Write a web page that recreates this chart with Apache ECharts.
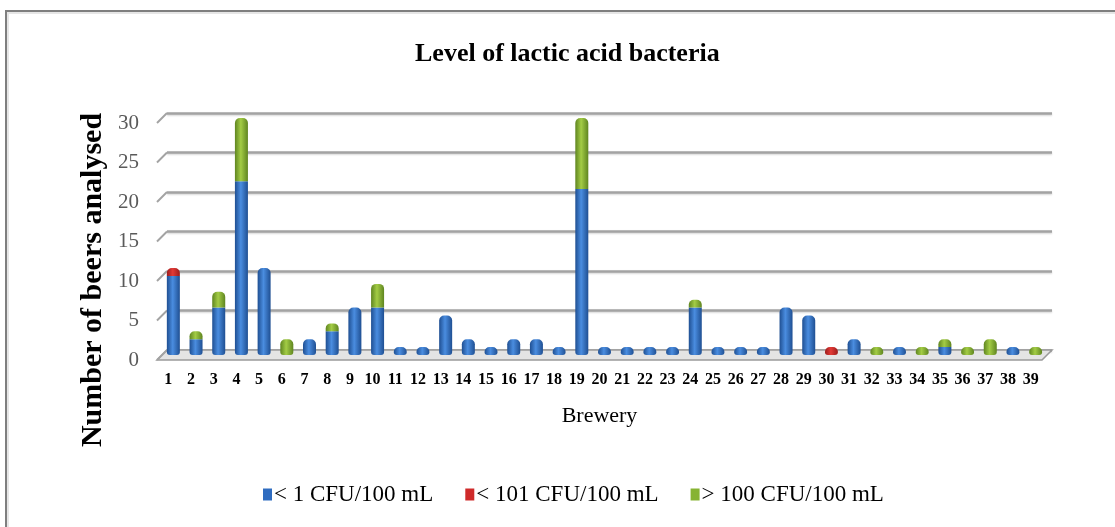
<!DOCTYPE html>
<html>
<head>
<meta charset="utf-8">
<title>Level of lactic acid bacteria</title>
<script src="https://cdn.jsdelivr.net/npm/echarts@6/dist/echarts.min.js"></script>
<style>
  html, body { margin: 0; padding: 0; background: #ffffff; }
  #chart { width: 1115px; height: 527px; }
</style>
</head>
<body>
<div id="chart"></div>
<script>
// Breweries 1..39
const breweries = ['1','2','3','4','5','6','7','8','9','10','11','12','13','14','15','16','17','18','19','20',
                   '21','22','23','24','25','26','27','28','29','30','31','32','33','34','35','36','37','38','39'];

// Number of beers per level of lactic acid bacteria
const below1CFU   = [10,2,6,22,11,0,2,3,6,6, 1,1,5,2,1,2,2,1,21,1, 1,1,1,6,1,1,1,6,5,0, 2,0,1,0,1,0,0,1,0];
const below101CFU = [1,0,0,0,0,0,0,0,0,0, 0,0,0,0,0,0,0,0,0,0, 0,0,0,0,0,0,0,0,0,1, 0,0,0,0,0,0,0,0,0];
const above100CFU = [0,1,2,8,0,2,0,1,0,3, 0,0,0,0,0,0,0,0,9,0, 0,0,0,1,0,0,0,0,0,0, 0,1,0,1,1,1,2,0,1];

const seriesNames = ['< 1 CFU/100 mL', '< 101 CFU/100 mL', '> 100 CFU/100 mL'];
const yTicks = [0, 5, 10, 15, 20, 25, 30];

const SERIF = '"Liberation Serif", "DejaVu Serif", serif';

function cylinder(dark, light) {
  return new echarts.graphic.LinearGradient(0, 0, 1, 0, [
    { offset: 0, color: dark },
    { offset: 0.45, color: light },
    { offset: 1, color: dark }
  ]);
}
const fills = [
  cylinder('#1f4f92', '#4a8de0'),
  cylinder('#9c1c1c', '#e23a36'),
  cylinder('#5f8520', '#a3cc45')
];
const legendColors = ['#2f6cc0', '#cf2a2a', '#86b332'];

const stacks = [below1CFU, below101CFU, above100CFU];

// which segment is the top / bottom of each stacked column (rounded caps)
function topIndex(i) {
  for (let s = stacks.length - 1; s >= 0; s--) if (stacks[s][i] > 0) return s;
  return -1;
}
function bottomIndex(i) {
  for (let s = 0; s < stacks.length; s++) if (stacks[s][i] > 0) return s;
  return -1;
}

const barSeries = stacks.map((arr, s) => ({
  name: seriesNames[s],
  type: 'bar',
  stack: 'beers',
  xAxisIndex: 1,
  yAxisIndex: 1,
  barWidth: 13,
  z: 5,
  itemStyle: { color: fills[s] },
  data: arr.map((v, i) => {
    if (!v) return '-';
    const isTop = topIndex(i) === s;
    const isBottom = bottomIndex(i) === s;
    const r = [isTop ? 5 : 0, isTop ? 5 : 0, isBottom ? 3 : 0, isBottom ? 3 : 0];
    return { value: v, itemStyle: { borderRadius: r } };
  })
}));

// legend entries use flat swatches
const legendData = seriesNames.map((n, s) => ({ name: n, itemStyle: { color: legendColors[s] } }));

const axisRange = { type: 'value', min: 0, max: 30, interval: 5 };

const option = {
  animation: false,
  backgroundColor: '#ffffff',
  title: {
    text: 'Level of lactic acid bacteria',
    left: 410,
    top: 36,
    textStyle: { fontFamily: SERIF, fontSize: 26, fontWeight: 'bold', color: '#000000' }
  },
  legend: {
    data: legendData,
    left: 258,
    top: 478,
    itemWidth: 9,
    itemHeight: 12,
    itemGap: 32,
    icon: 'rect',
    textStyle: { fontFamily: SERIF, fontSize: 23, color: '#000000', padding: [0, 0, 0, -3] }
  },
  graphic: [
    {
      type: 'rect',
      shape: { x: 6, y: 11, width: 1200, height: 600 },
      style: { fill: 'none', stroke: '#7f7f7f', lineWidth: 2 },
      silent: true
    },
    {
      type: 'rect',
      shape: { x: 8, y: 13, width: 1200, height: 600 },
      style: { fill: 'none', stroke: '#e6e6e6', lineWidth: 2 },
      silent: true
    },
    {
      type: 'text',
      x: 93,
      y: 280,
      rotation: Math.PI / 2,
      style: {
        text: 'Number of beers analysed',
        fontFamily: SERIF,
        fontSize: 30,
        fontWeight: 'bold',
        fill: '#000000',
        textAlign: 'center',
        textVerticalAlign: 'middle'
      }
    }
  ],
  grid: [
    // back wall with gridlines
    { left: 167, right: 63, top: 113, bottom: 177 },
    // columns, half-way into the depth
    { left: 162, right: 68, top: 118, bottom: 172 },
    // front plane carrying the axis labels
    { left: 157, right: 73, top: 123, bottom: 167 }
  ],
  xAxis: [
    { type: 'category', gridIndex: 0, data: breweries, show: false },
    { type: 'category', gridIndex: 1, data: breweries, show: false },
    {
      type: 'category', gridIndex: 2, data: breweries,
      axisLine: { show: false }, axisTick: { show: false },
      axisLabel: { fontFamily: SERIF, fontSize: 16, fontWeight: 'bold', color: '#000000', margin: 12, interval: 0 },
      name: 'Brewery',
      nameLocation: 'middle',
      nameGap: 45,
      nameTextStyle: { fontFamily: SERIF, fontSize: 22, color: '#000000' }
    }
  ],
  yAxis: [
    Object.assign({ gridIndex: 0 }, axisRange, {
      axisLine: { show: false }, axisTick: { show: false }, axisLabel: { show: false },
      splitLine: { show: true, lineStyle: { color: '#a3a3a3', width: 2.5, shadowColor: 'rgba(0,0,0,0.18)', shadowBlur: 2, shadowOffsetY: 1 } }
    }),
    Object.assign({ gridIndex: 1 }, axisRange, { show: false, splitLine: { show: false } }),
    Object.assign({ gridIndex: 2 }, axisRange, {
      axisLine: { show: false }, axisTick: { show: false },
      splitLine: { show: false },
      axisLabel: { fontFamily: SERIF, fontSize: 21, color: '#5a5a5a', margin: 18 }
    })
  ],
  series: [
    {
      // side wall edges and the floor of the plot box
      type: 'custom',
      xAxisIndex: 0,
      yAxisIndex: 0,
      z: 1,
      silent: true,
      data: yTicks.map(v => [0, v]),
      renderItem: function (params, api) {
        const cs = params.coordSys;
        const y = api.coord([0, api.value(1)])[1];
        const children = [];
        if (api.value(1) === 0) {
          children.push({
            type: 'polygon',
            shape: { points: [[cs.x, y], [cs.x + cs.width, y], [cs.x + cs.width - 10, y + 10], [cs.x - 10, y + 10]] },
            style: { fill: '#e4e4e4', stroke: '#9a9a9a', lineWidth: 1.5 }
          });
        }
        children.push({
          type: 'line',
          shape: { x1: cs.x, y1: y, x2: cs.x - 10, y2: y + 10 },
          style: { stroke: '#a3a3a3', lineWidth: 2 }
        });
        return { type: 'group', children: children };
      }
    }
  ].concat(barSeries)
};

const chart = echarts.init(document.getElementById('chart'), null, { renderer: 'canvas' });
chart.setOption(option);
</script>
</body>
</html>
